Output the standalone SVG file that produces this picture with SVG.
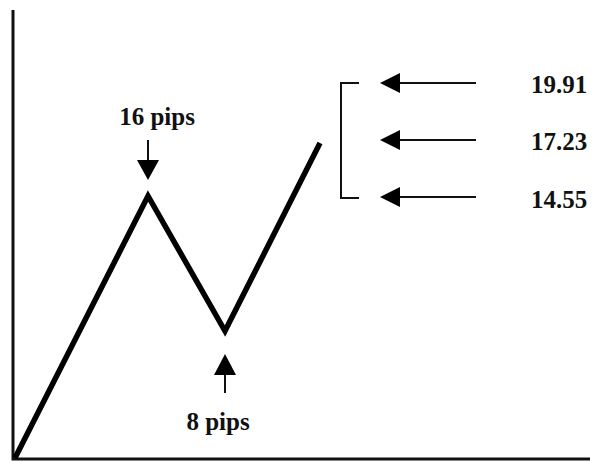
<svg xmlns="http://www.w3.org/2000/svg" width="595" height="462" viewBox="0 0 595 462">
<style>
.lbl{font-family:"Liberation Serif","Times New Roman",serif;font-weight:bold;font-size:25px;fill:#111}
.ax{stroke:#111;stroke-width:3;fill:none}
.zz{stroke:#000;stroke-width:5.5;fill:none;stroke-linejoin:miter}
.ar{stroke:#111;stroke-width:2;fill:none}
.hd{fill:#000}
</style>
<rect width="595" height="462" fill="#fff"/>
<g id="axes">
<path class="ax" d="M13,10 V459 H590"/>
</g>
<g id="price-line">
<path class="zz" d="M15,458 L148,196 L225,331 L320,143"/>
</g>
<g id="connectors">
<line class="ar" x1="148" y1="140" x2="148" y2="163"/>
<polygon class="hd" points="137,160 159,160 148,180"/>
<line class="ar" x1="225" y1="372" x2="225" y2="393"/>
<polygon class="hd" points="214,375 236,375 225,354"/>
<path class="ar" d="M359,83 H341 V198 H359"/>
<line class="ar" x1="395" y1="83" x2="476" y2="83"/>
<polygon class="hd" points="380,83 400,73 400,93"/>
<line class="ar" x1="395" y1="140" x2="476" y2="140"/>
<polygon class="hd" points="380,140 400,130 400,150"/>
<line class="ar" x1="395" y1="197" x2="476" y2="197"/>
<polygon class="hd" points="380,197 400,187 400,207"/>
</g>
<g id="label-16"><text class="lbl" x="157" y="125" text-anchor="middle">16 pips</text></g>
<g id="label-8"><text class="lbl" x="218" y="430" text-anchor="middle">8 pips</text></g>
<g id="level-1"><text class="lbl" x="531" y="93">19.91</text></g>
<g id="level-2"><text class="lbl" x="531" y="150">17.23</text></g>
<g id="level-3"><text class="lbl" x="531" y="208">14.55</text></g>
</svg>
